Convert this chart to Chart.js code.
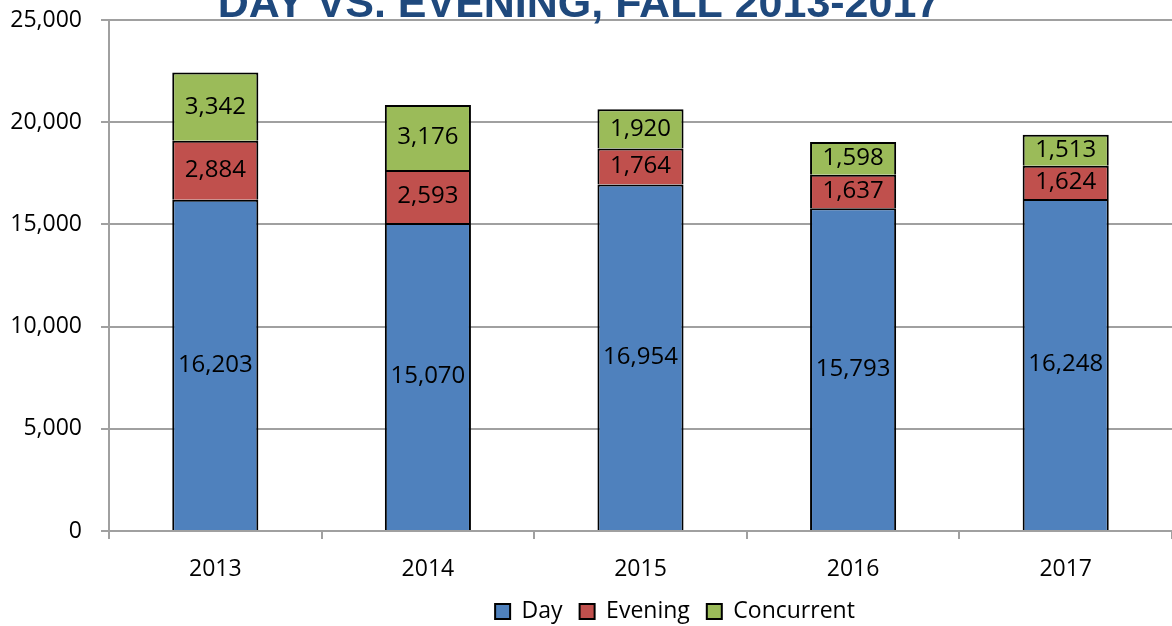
<!DOCTYPE html>
<html>
<head>
<meta charset="utf-8">
<script src="https://cdn.jsdelivr.net/npm/chart.js@4.4.0/dist/chart.umd.min.js"></script>
<style>
  html, body { margin: 0; padding: 0; background: #fff; }
  #wrap { width: 1172px; height: 626px; position: relative; }
</style>
</head>
<body>
<div id="wrap"><canvas id="enrollChart"></canvas></div>
<script>
// chart data
const years = ['2013', '2014', '2015', '2016', '2017'];
const dayValues = [16203, 15070, 16954, 15793, 16248];
const eveningValues = [2884, 2593, 1764, 1637, 1624];
const concurrentValues = [3342, 3176, 1920, 1598, 1513];
const chartTitle = 'DAY VS. EVENING, FALL 2013-2017';

const FONT = "'Open Sans', 'Liberation Sans', sans-serif";
const GRID = '#a0a0a0';
const fmt = v => v.toLocaleString('en-US');

// values written in the middle of each stacked segment
const segmentLabels = {
  id: 'segmentLabels',
  afterDatasetsDraw(chart) {
    const ctx = chart.ctx;
    ctx.save();
    ctx.font = '24px ' + FONT;
    ctx.fillStyle = '#000';
    ctx.textAlign = 'center';
    ctx.textBaseline = 'middle';
    chart.data.datasets.forEach((ds, i) => {
      chart.getDatasetMeta(i).data.forEach((bar, j) => {
        ctx.fillText(fmt(ds.data[j]), bar.x, (bar.y + bar.base) / 2);
      });
    });
    ctx.restore();
  }
};

// big title, partly cut off by the top edge like the original
const clippedTitle = {
  id: 'clippedTitle',
  afterDraw(chart) {
    const ctx = chart.ctx;
    ctx.save();
    ctx.font = 'bold 43px "Liberation Sans", Arial, sans-serif';
    ctx.fillStyle = '#1f497d';
    ctx.textAlign = 'center';
    ctx.textBaseline = 'alphabetic';
    ctx.fillText(chartTitle, chart.width / 2 - 7, 17);
    ctx.restore();
  }
};

// legend sits a bit right of centre in the original; x labels may run into the legend band
const layoutNudge = {
  id: 'layoutNudge',
  afterLayout(chart) {
    const lg = chart.legend;
    lg.left += 89; lg.right += 89;
    lg.top += 7; lg.bottom += 7;
    chart.scales.x.bottom = chart.height;
  }
};

new Chart(document.getElementById('enrollChart'), {
  type: 'bar',
  data: {
    labels: years,
    datasets: [
      { label: 'Day', data: dayValues, backgroundColor: '#4f81bd' },
      { label: 'Evening', data: eveningValues, backgroundColor: '#c0504d' },
      { label: 'Concurrent', data: concurrentValues, backgroundColor: '#9bbb59' }
    ].map(d => ({ ...d, borderColor: '#000', borderWidth: 2,
                  categoryPercentage: 1, barPercentage: 0.405 }))
  },
  options: {
    responsive: true,
    maintainAspectRatio: false,
    animation: false,
    layout: { padding: { top: 20, right: 0, left: 0, bottom: 0 } },
    plugins: {
      title: { display: false },
      tooltip: { enabled: false },
      legend: {
        position: 'bottom',
        labels: {
          boxWidth: 15, boxHeight: 15, padding: 17, color: '#000',
          font: { family: FONT, size: 23 }
        }
      }
    },
    scales: {
      x: {
        stacked: true,
        grid: { offset: true, drawOnChartArea: false, drawTicks: true, tickLength: 8, color: GRID, lineWidth: 2 },
        border: { color: GRID, width: 2 },
        ticks: { color: '#000', padding: 17, font: { family: FONT, size: 23 } },
        afterFit: s => { s.height = 45; }
      },
      y: {
        stacked: true,
        min: 0, max: 25000,
        grid: { color: GRID, lineWidth: 2, tickLength: 8 },
        border: { color: GRID, width: 2 },
        ticks: { stepSize: 5000, color: '#000', padding: 19, callback: v => fmt(v),
                 font: { family: FONT, size: 23 } },
        afterFit: s => { s.width = 109; s.paddingTop = 0; s.paddingBottom = 0; }
      }
    }
  },
  plugins: [segmentLabels, clippedTitle, layoutNudge]
});
</script>
</body>
</html>
